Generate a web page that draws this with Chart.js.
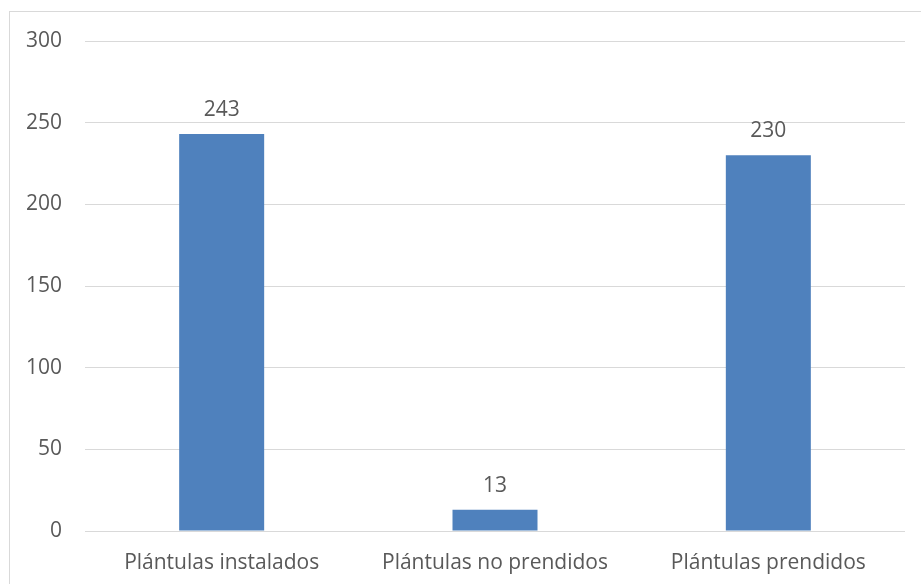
<!DOCTYPE html>
<html>
<head>
<meta charset="utf-8">
<script src="https://cdn.jsdelivr.net/npm/chart.js@4/dist/chart.umd.min.js"></script>
<style>
  html, body { margin: 0; padding: 0; background: #ffffff; overflow: hidden; }
  #frame {
    position: absolute; left: 9px; top: 11px; width: 1000px; height: 700px;
    border-top: 1px solid #d9d9d9; border-left: 1px solid #d9d9d9;
  }
  #wrap { position: absolute; left: 0; top: 0; width: 921px; height: 584px; }
</style>
</head>
<body>
<div id="frame"></div>
<div id="wrap"><canvas id="chart" width="921" height="584"></canvas></div>
<script>
const categories = ["Plántulas instalados", "Plántulas no prendidos", "Plántulas prendidos"];
const plantulas = [243, 13, 230];
const yTicks = [0, 50, 100, 150, 200, 250, 300];

const textColor = "#595959";
const fontFamily = "'Open Sans', 'Liberation Sans', sans-serif";
const fontSize = 21;

// value labels above each bar
const valueLabels = {
  id: "valueLabels",
  afterDatasetsDraw(chart) {
    const ctx = chart.ctx;
    const meta = chart.getDatasetMeta(0);
    ctx.save();
    ctx.font = fontSize + "px " + fontFamily;
    ctx.fillStyle = textColor;
    ctx.textAlign = "center";
    ctx.textBaseline = "alphabetic";
    meta.data.forEach((bar, i) => {
      ctx.fillText(String(plantulas[i]), bar.x, bar.y - 18);
    });
    ctx.restore();
  }
};

new Chart(document.getElementById("chart"), {
  type: "bar",
  data: {
    labels: categories,
    datasets: [{
      data: plantulas,
      backgroundColor: "#4f81bd",
      borderWidth: 0,
      barPercentage: 0.311,
      categoryPercentage: 1.0
    }]
  },
  options: {
    responsive: false,
    animation: false,
    layout: { padding: { top: 41, right: 16, left: 0, bottom: 0 } },
    plugins: { legend: { display: false }, tooltip: { enabled: false } },
    scales: {
      x: {
        grid: { display: false, drawTicks: false },
        border: { display: false },
        ticks: { color: textColor, font: { family: fontFamily, size: fontSize }, padding: 19, maxRotation: 0 },
        afterFit(scale) { scale.height = 53; }
      },
      y: {
        min: 0,
        max: 300,
        afterBuildTicks(scale) { scale.ticks = yTicks.map(v => ({ value: v })); },
        grid: { color: "#d9d9d9", lineWidth: 1, drawTicks: false },
        border: { display: false },
        ticks: { color: textColor, font: { family: fontFamily, size: fontSize }, padding: 23 },
        afterFit(scale) { scale.width = 85; }
      }
    }
  },
  plugins: [valueLabels]
});
</script>
</body>
</html>
